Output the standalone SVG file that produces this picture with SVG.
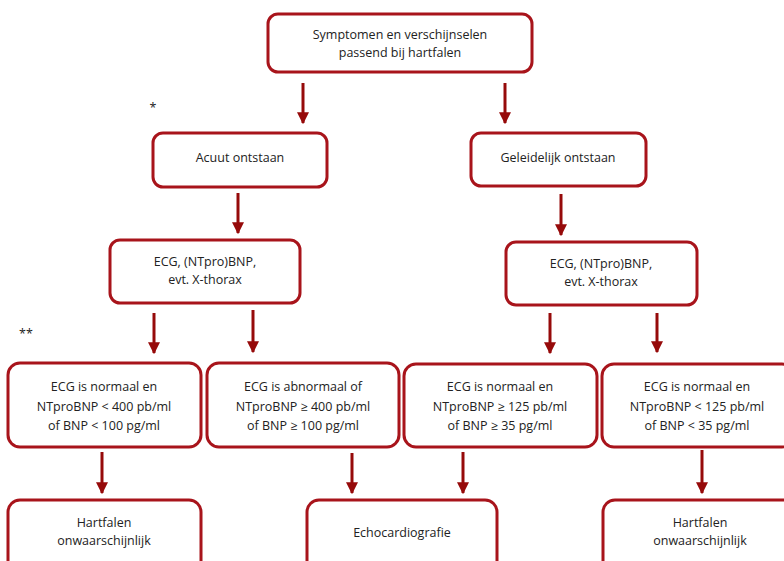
<svg xmlns="http://www.w3.org/2000/svg" width="784" height="561" viewBox="0 0 784 561">
<style>
.box{fill:#fff;stroke:#a8141b;stroke-width:3}
.t{font-family:"Open Sans","Liberation Sans",sans-serif;font-size:12.5px;fill:#222;text-anchor:middle}
.c line{stroke:#960a0a;stroke-width:3}
</style>
<defs>
<marker id="ah" viewBox="0 0 10 10" refX="9" refY="5" markerWidth="4" markerHeight="4" orient="auto" markerUnits="strokeWidth">
<path d="M0,0 L10,5 L0,10 z" fill="#960a0a"/>
</marker>
</defs>
<rect width="784" height="561" fill="#fff"/>
<g class="c" id="connectors">
<line x1="303" y1="83" x2="303" y2="123" marker-end="url(#ah)"/>
<line x1="505" y1="83" x2="505" y2="123" marker-end="url(#ah)"/>
<line x1="238" y1="193" x2="238" y2="233" marker-end="url(#ah)"/>
<line x1="561" y1="194" x2="561" y2="235" marker-end="url(#ah)"/>
<line x1="154" y1="313" x2="154" y2="353" marker-end="url(#ah)"/>
<line x1="253" y1="310" x2="253" y2="352" marker-end="url(#ah)"/>
<line x1="550" y1="313" x2="550" y2="353" marker-end="url(#ah)"/>
<line x1="657" y1="313" x2="657" y2="352" marker-end="url(#ah)"/>
<line x1="102" y1="452" x2="102" y2="493" marker-end="url(#ah)"/>
<line x1="352" y1="453" x2="352" y2="493" marker-end="url(#ah)"/>
<line x1="463" y1="452" x2="463" y2="493" marker-end="url(#ah)"/>
<line x1="702" y1="450" x2="702" y2="493" marker-end="url(#ah)"/>
</g>
<g id="top"><rect class="box" x="268" y="14" width="264" height="58" rx="10"/>
<text class="t" x="400" y="39">Symptomen en verschijnselen</text><text class="t" x="400" y="57">passend bij hartfalen</text></g>
<g id="acuut"><rect class="box" x="153" y="133" width="174" height="54" rx="10"/>
<text class="t" x="240" y="162">Acuut ontstaan</text></g>
<g id="geleidelijk"><rect class="box" x="471" y="133" width="175" height="53" rx="10"/>
<text class="t" x="558" y="162">Geleidelijk ontstaan</text></g>
<g id="ecg1"><rect class="box" x="110" y="240" width="190" height="63" rx="10"/>
<text class="t" x="205" y="266">ECG, (NTpro)BNP,</text><text class="t" x="205" y="284">evt. X-thorax</text></g>
<g id="ecg2"><rect class="box" x="506" y="242" width="191" height="63" rx="10"/>
<text class="t" x="601" y="268">ECG, (NTpro)BNP,</text><text class="t" x="601" y="286">evt. X-thorax</text></g>
<g id="star1"><text class="t" x="153" y="112">*</text></g>
<g id="star2"><text class="t" x="26" y="338">**</text></g>
<g id="r1"><rect class="box" x="8" y="363" width="193" height="84" rx="12"/>
<text class="t" x="104" y="391">ECG is normaal en</text><text class="t" x="104" y="411">NTproBNP &lt; 400 pb/ml</text><text class="t" x="104" y="430">of BNP &lt; 100 pg/ml</text></g>
<g id="r2"><rect class="box" x="207" y="363" width="192" height="84" rx="12"/>
<text class="t" x="303" y="391">ECG is abnormaal of</text><text class="t" x="303" y="411">NTproBNP ≥ 400 pb/ml</text><text class="t" x="303" y="430">of BNP ≥ 100 pg/ml</text></g>
<g id="r3"><rect class="box" x="404" y="364" width="193" height="83" rx="12"/>
<text class="t" x="500" y="391">ECG is normaal en</text><text class="t" x="500" y="411">NTproBNP ≥ 125 pb/ml</text><text class="t" x="500" y="430">of BNP ≥ 35 pg/ml</text></g>
<g id="r4"><rect class="box" x="602" y="364" width="192" height="83" rx="12"/>
<text class="t" x="697" y="391">ECG is normaal en</text><text class="t" x="697" y="411">NTproBNP &lt; 125 pb/ml</text><text class="t" x="697" y="430">of BNP &lt; 35 pg/ml</text></g>
<g id="o1"><rect class="box" x="8" y="500" width="193" height="80" rx="12"/>
<text class="t" x="104" y="527">Hartfalen</text><text class="t" x="104" y="545">onwaarschijnlijk</text></g>
<g id="echo"><rect class="box" x="307" y="500" width="190" height="80" rx="12"/>
<text class="t" x="402" y="537">Echocardiografie</text></g>
<g id="o2"><rect class="box" x="603" y="500" width="192" height="80" rx="12"/>
<text class="t" x="700" y="527">Hartfalen</text><text class="t" x="700" y="545">onwaarschijnlijk</text></g>
</svg>
